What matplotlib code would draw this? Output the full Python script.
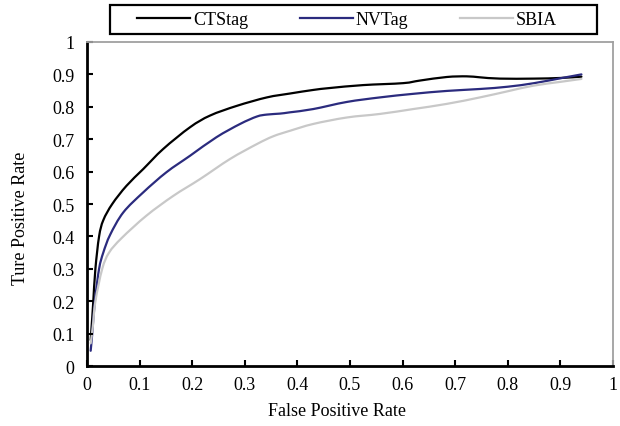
import matplotlib
matplotlib.use('Agg')
import matplotlib.pyplot as plt
import numpy as np
from matplotlib.path import Path
from matplotlib.patches import PathPatch, Rectangle
from matplotlib.lines import Line2D
from matplotlib.ticker import FuncFormatter

plt.rcParams['font.family'] = ['Liberation Serif', 'DejaVu Serif']

# ROC 曲线数据 (FPR, TPR)
cts_fpr = [0.007, 0.010, 0.012, 0.016, 0.023, 0.031, 0.048, 0.075, 0.107, 0.145, 0.196,
           0.234, 0.285, 0.342, 0.386, 0.43, 0.462, 0.525, 0.601, 0.633, 0.684, 0.722,
           0.747, 0.785, 0.85, 0.9, 0.94]
cts_tpr = [0.08, 0.15, 0.2, 0.3, 0.4, 0.45, 0.5, 0.556, 0.608, 0.67, 0.737,
           0.773, 0.803, 0.829, 0.841, 0.852, 0.858, 0.867, 0.873, 0.881, 0.892, 0.894,
           0.891, 0.887, 0.887, 0.889, 0.893]

nv_fpr = [0.007, 0.010, 0.015, 0.023, 0.031, 0.044, 0.069, 0.107, 0.151, 0.196, 0.246,
          0.291, 0.323, 0.342, 0.367, 0.386, 0.43, 0.494, 0.557, 0.62, 0.684, 0.747,
          0.8, 0.85, 0.9, 0.94]
nv_tpr = [0.047, 0.1, 0.2, 0.3, 0.35, 0.405, 0.474, 0.536, 0.598, 0.649, 0.706,
          0.747, 0.77, 0.776, 0.779, 0.783, 0.793, 0.815, 0.829, 0.84, 0.849, 0.855,
          0.862, 0.873, 0.888, 0.9]

sb_fpr = [0.007, 0.011, 0.016, 0.029, 0.042, 0.066, 0.113, 0.164, 0.215, 0.272, 0.323,
          0.354, 0.386, 0.43, 0.494, 0.557, 0.62, 0.684, 0.747, 0.8, 0.848, 0.9, 0.94]
sb_tpr = [0.07, 0.12, 0.2, 0.3, 0.35, 0.395, 0.464, 0.525, 0.577, 0.639, 0.685,
          0.709, 0.726, 0.747, 0.767, 0.778, 0.793, 0.809, 0.829, 0.848, 0.865, 0.877,
          0.886]

labels = ['CTStag', 'NVTag', 'SBIA']
colors = ['black', '#2B2B7E', '#C8C8C8']
ticks = [0, 0.1, 0.2, 0.3, 0.4, 0.5, 0.6, 0.7, 0.8, 0.9, 1]


def smooth_path(x, y):
    # Catmull-Rom 转三次贝塞尔，类似 Excel 平滑线
    p = np.column_stack([x, y])
    verts = [p[0]]
    codes = [Path.MOVETO]
    for i in range(len(p) - 1):
        p0 = p[i - 1] if i > 0 else p[i]
        p1, p2 = p[i], p[i + 1]
        p3 = p[i + 2] if i + 2 < len(p) else p[i + 1]
        verts += [p1 + (p2 - p0) / 6, p2 - (p3 - p1) / 6, p2]
        codes += [Path.CURVE4] * 3
    return Path(verts, codes)


fig = plt.figure(figsize=(6.2, 4.27), dpi=100)
ax = fig.add_axes([0.1403, 0.1405, 0.8484, 0.7588])

for xs, ys, c in zip([cts_fpr, nv_fpr, sb_fpr], [cts_tpr, nv_tpr, sb_tpr], colors):
    ax.add_patch(PathPatch(smooth_path(xs, ys), facecolor='none', edgecolor=c,
                           lw=1.6, capstyle='round', joinstyle='round'))

ax.set_xlim(0, 1)
ax.set_ylim(0, 1)
ax.set_xticks(ticks)
ax.set_yticks(ticks)
fmt = FuncFormatter(lambda v, p: '%g' % v)
ax.xaxis.set_major_formatter(fmt)
ax.yaxis.set_major_formatter(fmt)
ax.tick_params(direction='in', length=4.5, width=1.5, labelsize=13, top=False, right=False)
ax.tick_params(axis='x', pad=7)
ax.tick_params(axis='y', pad=9)

for s in ['left', 'bottom']:
    ax.spines[s].set_linewidth(2)
    ax.spines[s].set_color('black')
for s in ['top', 'right']:
    ax.spines[s].set_linewidth(1.3)
    ax.spines[s].set_color('#A0A0A0')

ax.set_xlabel('False Positive Rate', fontsize=13)
ax.set_ylabel('Ture Positive Rate', fontsize=13)
ax.xaxis.set_label_coords(0.475, -0.112)
ax.yaxis.set_label_coords(-0.11, 0.46)

# 图例（外框单独画）
handles = [Line2D([], [], color=c, lw=1.6) for c in colors]
fig.legend(handles, labels, loc='center left', bbox_to_anchor=(137 / 620, 1 - 20.5 / 427),
           ncol=3, fontsize=13, frameon=False, handlelength=2.95, handletextpad=0.15,
           columnspacing=2.85, borderpad=0, borderaxespad=0)
fig.patches.append(Rectangle((110 / 620, 1 - 35 / 427), 487 / 620, 29 / 427,
                             transform=fig.transFigure, facecolor='none',
                             edgecolor='black', lw=1.6))

fig.savefig('out.png', dpi=100, facecolor='white')
